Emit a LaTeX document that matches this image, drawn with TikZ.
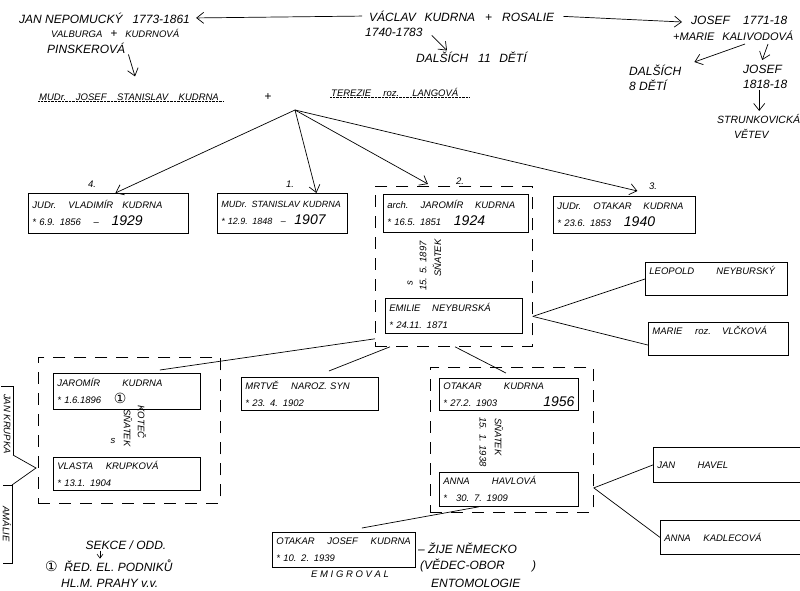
\documentclass[tikz,border=0pt]{standalone}
\usepackage{fontspec}
\setmainfont{Liberation Sans}
\newfontfamily\circfont{DejaVu Sans}
\usepackage{tikz}
\usetikzlibrary{arrows.meta, positioning}
\tikzstyle{hand} = [font=\itshape\fontsize{12}{15}\selectfont, align=left, inner sep=1pt]
\tikzstyle{small} = [font=\itshape\fontsize{9.5}{11}\selectfont, align=left, inner sep=1pt]
\tikzstyle{person} = [draw=black, line width=0.8pt, rectangle, anchor=north west, align=left,
                      inner sep=4pt, font=\itshape\fontsize{9.5}{17}\selectfont]
\tikzstyle{group} = [draw=black, line width=0.8pt, dash pattern=on 12pt off 9pt, rectangle,
                     anchor=north west, inner sep=0pt]
\tikzstyle{link} = [-{Straight Barb[length=7pt, width=11pt]}, line width=0.7pt]
\tikzstyle{tie} = [line width=0.7pt]
\newcommand{\yr}[1]{{\fontsize{14}{15}\selectfont #1}}
\newcommand{\one}{{\circfont\fontsize{14}{15}\selectfont ①}}

\begin{document}
\begin{tikzpicture}[x=1pt, y=-1pt]
				\useasboundingbox (0,0) rectangle (800,591);

				\node (JanNep) [hand, anchor=west] at (18,18) {JAN NEPOMUCKÝ \; 1773-1861};
				\node (Valburga) [small, anchor=west] at (50,33) {VALBURGA \;\;{\fontsize{12}{12}\selectfont +}\;\; KUDRNOVÁ};
				\node (Pinskerova) [hand, anchor=west] at (46,48) {PINSKEROVÁ};

				\node (Vaclav) [hand, anchor=west] at (368,16) {VÁCLAV \, KUDRNA \; + \; ROSALIE};
				\node (VaclavYears) [hand, anchor=west] at (364,32) {1740-1783};
				\node (Dalsich11) [hand, anchor=west] at (415,57) {DALŠÍCH \; 11 \, DĚTÍ};
				\draw [link, shorten <=6pt, shorten >=5pt] (Vaclav.west) -- (JanNep.east);
				\draw [link] ([xshift=8pt, yshift=2pt]VaclavYears.south east) -- ([xshift=32pt]Dalsich11.north west);

				\node (JosefK) [hand, anchor=west] at (690,20) {JOSEF \;\; 1771-18};
				\node (Marie) [hand, anchor=west, font=\itshape\fontsize{11}{13}\selectfont] at (672,36) {+MARIE \, KALIVODOVÁ};
				\draw [link, shorten <=8pt] (Vaclav.east) -- ([xshift=-8pt, yshift=-2pt]JosefK.west);
				\node (Dalsich8) [hand, anchor=north west] at (628,64) {DALŠÍCH\\8 DĚTÍ};
				\draw [link] ([xshift=73pt, yshift=-2pt]Marie.south west) -- ([xshift=12pt, yshift=2pt]Dalsich8.north east);
				\node (JosefJr) [hand, anchor=north west] at (742,64) {JOSEF\\1818-18};
				\draw [link] ([xshift=96pt, yshift=-2pt]Marie.south west) -- ([xshift=-3pt, yshift=4pt]JosefJr.north);
				\node (Strunkovice) [hand, anchor=north west, font=\itshape\fontsize{10.5}{15}\selectfont] at (716,113) {STRUNKOVICKÁ\\\hspace*{17pt}VĚTEV};
				\draw [link] ([xshift=-6pt]JosefJr.south) -- ([xshift=-6pt, yshift=2pt]JosefJr.south |- Strunkovice.north);

				\node (JosefSt) [small, anchor=west] at (38,97) {MUDr. \; JOSEF \;\; STANISLAV \;\; KUDRNA};
				\draw [densely dotted] (JosefSt.south west) -- ([xshift=4pt]JosefSt.south east);
				\draw [link] ([xshift=2pt]Pinskerova.south east) -- ([xshift=6pt, yshift=16pt]JosefSt.north);
				\node (Plus) [hand] at (268,97) {+};
				\node (Terezie) [small, anchor=west] at (330,92) {TEREZIE \quad roz. \quad LANGOVÁ};
				\draw [densely dotted] (Terezie.south west) -- ([xshift=10pt]Terezie.south east);

				\coordinate (Kids) at (295,110);

				\node (Vladimir) [person, text width=152pt, minimum height=40pt] at (28,193)
					{JUDr. \; VLADIMÍR \; KUDRNA\\ {*} 6.9. 1856 \quad -- \quad \yr{1929}};
				\node (Stanislav) [person, text width=122pt, minimum height=40pt, font=\itshape\fontsize{9}{17}\selectfont] at (217,193)
					{MUDr. STANISLAV KUDRNA\\ {*} 12.9. 1848 \; -- \; \yr{1907}};
				\node (GrpJaroslav) [group, minimum width=157pt, minimum height=160pt] at (375,186) {};
				\node (Jaromir) [person, text width=137pt, minimum height=38pt] at (383,194)
					{arch. \; JAROMÍR \;\; KUDRNA\\ {*} 16.5. 1851 \quad \yr{1924}};
				\node (Otakar) [person, text width=134pt, minimum height=37pt] at (553,196)
					{JUDr. \; OTAKAR \;\; KUDRNA\\ {*} 23.6. 1853 \quad \yr{1940}};
				\node (Emilie) [person, text width=129pt, minimum height=35pt] at (385,298)
					{EMILIE \;\; NEYBURSKÁ\\ {*} 24.11. 1871};

				\node (No4) [small] at (92,184) {4.};
				\node (No1) [small] at (290,184) {1.};
				\node (No2) [small] at (460,181) {2.};
				\node (No3) [small] at (653,186) {3.};

				\draw [link] (Kids) -- ([xshift=7pt]Vladimir.north);
				\draw [link] (Kids) -- ([xshift=34pt]Stanislav.north);
				\draw [link] (Kids) -- ([xshift=-26pt, yshift=2pt]GrpJaroslav.north);
				\draw [link] (Kids) -- ([xshift=13pt, yshift=5pt]Otakar.north);

				\node (Wed1s) [small, rotate=90] at (410,283) {s};
				\node (Wed1Date) [small, rotate=90] at (423,266) {15. 5. 1897};
				\node (Wed1) [small, rotate=90] at (437,258) {SŇATEK};

				\node (Leopold) [person, text width=134pt, minimum height=31pt] at (645,262)
					{LEOPOLD \qquad NEYBURSKÝ\\ \mbox{}};
				\node (MarieV) [person, text width=132pt, minimum height=27pt] at (648,322)
					{MARIE \quad roz. \, VLČKOVÁ\\ \mbox{}};
				\draw [tie] ([yshift=-50pt]GrpJaroslav.east) -- (Leopold.west);
				\draw [tie] ([yshift=-50pt]GrpJaroslav.east) -- ([yshift=-6pt]MarieV.west);

				\node (GrpJaromir) [group, minimum width=182pt, minimum height=146pt] at (38,357) {};
				\node (Jaromir2) [person, text width=139pt, minimum height=36pt] at (53,373)
					{JAROMÍR \qquad KUDRNA\\ {*} 1.6.1896 \quad \one};
				\node (Vlasta) [person, text width=139pt, minimum height=31pt] at (53,457)
					{VLASTA \quad KRUPKOVÁ\\ {*} 13.1. 1904};
				\node (Wed2s) [small] at (113,441) {s};
				\node (Wed2) [small, rotate=-90] at (128,428) {SŇATEK};
				\node (Wed2Place) [small, rotate=-90] at (142,422) {KOTEČ};

				\node (JanKrupka) [small, rotate=-90] at (7,424) {JAN KRUPKA};
				\node (Amalie) [small, rotate=-90] at (7,524) {AMÁLIE};
				\coordinate (KrupkaJoin) at (36,468);
				\coordinate (KrupkaFoot) at (13,455);
				\coordinate (AmalieHead) at (12,485);
				\draw [tie] (1,386) -- (13,386) -- (KrupkaFoot);
				\draw [tie] (3,485) -- (AmalieHead) -- (12,563) -- (3,563);
				\draw [tie] (KrupkaFoot) -- (KrupkaJoin) -- (AmalieHead);

				\node (Sekce) [hand] at (126,545) {SEKCE / ODD.};
				\node (Reditelstvi) [hand, anchor=west] at (44,566) {\one\; ŘED. EL. PODNIKŮ};
				\node (Praha) [hand, anchor=west] at (60,583) {HL.M. PRAHY v.v.};
				\draw [-{Straight Barb[length=4pt, width=6pt]}, line width=0.6pt] ([xshift=-26pt]Sekce.south) -- ++(0,8);

				\node (MrtveSyn) [person, text width=129pt, minimum height=32pt] at (241,377)
					{MRTVĚ \quad NAROZ. SYN\\ {*} 23. 4. 1902};

				\node (GrpOtakar) [group, minimum width=163pt, minimum height=145pt] at (430,367) {};
				\node (Otakar2) [person, text width=131pt, minimum height=31pt] at (439,378)
					{OTAKAR \qquad KUDRNA\\ {*} 27.2. 1903 \hfill \yr{1956}};
				\node (Anna) [person, text width=131pt, minimum height=34pt] at (439,472)
					{ANNA \qquad HAVLOVÁ\\ {*} \; 30. 7. 1909};
				\node (Wed3Date) [small, rotate=-90] at (483,442) {15. 1. 1938};
				\node (Wed3) [small, rotate=-90] at (499,437) {SŇATEK};

				\draw [tie] ([yshift=8pt]GrpJaroslav.south west) -- ([xshift=33pt, yshift=3pt]Jaromir2.north);
				\draw [tie] ([xshift=15pt]GrpJaroslav.south west) -- ([xshift=19pt, yshift=6pt]MrtveSyn.north);
				\draw [tie] ([xshift=80pt]GrpJaroslav.south west) -- ([xshift=-3pt, yshift=5pt]Otakar2.north);

				\node (JanHavel) [person, text width=152pt, minimum height=35pt] at (653,447)
					{JAN \qquad HAVEL};
				\node (AnnaK) [person, text width=142pt, minimum height=34pt] at (660,520)
					{ANNA \quad KADLECOVÁ};
				\draw [tie] ([yshift=-48pt]GrpOtakar.east) -- (JanHavel.west);
				\draw [tie] ([yshift=-48pt]GrpOtakar.east) -- (AnnaK.west);

				\node (OtakarJosef) [person, text width=135pt, minimum height=35pt] at (272,532)
					{OTAKAR \quad JOSEF \quad KUDRNA\\ {*} 10. 2. 1939};
				\draw [tie] ([xshift=-30pt]Anna.south) -- ([xshift=18pt, yshift=4pt]OtakarJosef.north);
				\node (Emigroval) [small] at (350,574) {E M I G R O V A L};
				\node (Nemecko) [hand, anchor=west] at (417,548) {-- ŽIJE NĚMECKO};
				\node (Vedec) [hand, anchor=west] at (419,565) {(VĚDEC-OBOR \qquad )};
				\node (Obor) [hand, anchor=west] at (430,583) {ENTOMOLOGIE};
			\end{tikzpicture}
\end{document}
